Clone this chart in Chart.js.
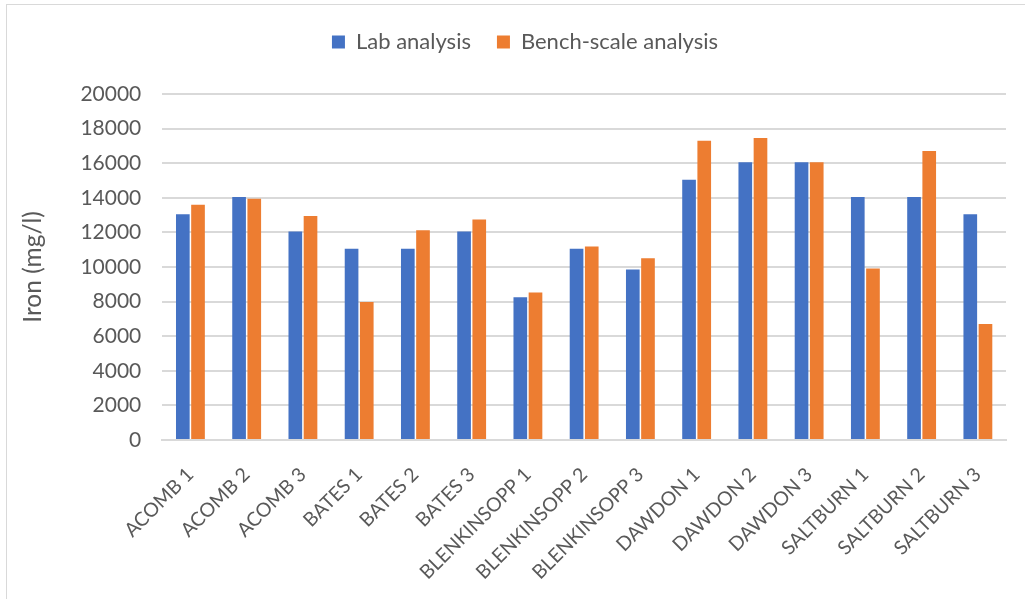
<!DOCTYPE html>
<html>
<head>
<meta charset="utf-8">
<script src="https://cdn.jsdelivr.net/npm/chart.js@4"></script>
<style>
  html, body { margin: 0; padding: 0; background: #fff; overflow: hidden; }
  #wrap {
    position: absolute; left: 6px; top: 4px; width: 1030px; height: 600px;
    border-left: 1px solid #d9d9d9; border-top: 1px solid #d9d9d9;
  }
  #ironChart { position: absolute; left: -7px; top: -5px; }
</style>
</head>
<body>
<div id="wrap">
  <canvas id="ironChart" width="1025" height="599"></canvas>
</div>
<script>
// Data
const sites = [
  "ACOMB 1", "ACOMB 2", "ACOMB 3", "BATES 1", "BATES 2", "BATES 3",
  "BLENKINSOPP 1", "BLENKINSOPP 2", "BLENKINSOPP 3", "DAWDON 1", "DAWDON 2",
  "DAWDON 3", "SALTBURN 1", "SALTBURN 2", "SALTBURN 3"
];
const labAnalysis = [13050, 14050, 12050, 11050, 11050, 12050, 8250, 11050, 9850, 15050, 16050, 16050, 14050, 14050, 13050];
const benchScale = [13600, 13950, 12950, 7980, 12120, 12750, 8520, 11190, 10510, 17300, 17450, 16060, 9910, 16700, 6700];
const yTicks = [0, 2000, 4000, 6000, 8000, 10000, 12000, 14000, 16000, 18000, 20000];

const textGray = "#595959";
const gridGray = "#d9d9d9";
Chart.defaults.font.family = "Lato, 'Open Sans', sans-serif";
Chart.defaults.color = textGray;

// extra room under the legend, and nudge it right like the original
const legendTweak = {
  id: "legendTweak",
  beforeInit(chart) {
    const fit = chart.legend.fit;
    chart.legend.fit = function () {
      fit.bind(chart.legend)();
      this.height += 31;
    };
  },
  afterLayout(chart) {
    chart.legend.left += 15;
    chart.legend.right += 15;
  }
};

const ctx = document.getElementById("ironChart").getContext("2d");
const chart = new Chart(ctx, {
  type: "bar",
  data: {
    labels: sites,
    datasets: [
      { label: "Lab analysis", data: labAnalysis, backgroundColor: "#4472C4" },
      { label: "Bench-scale analysis", data: benchScale, backgroundColor: "#ED7D31" }
    ]
  },
  options: {
    responsive: false,
    animation: false,
    devicePixelRatio: 1,
    categoryPercentage: 0.54,
    barPercentage: 0.9,
    layout: { padding: { top: 5, right: 19, bottom: 0, left: 14 } },
    plugins: {
      legend: {
        position: "top",
        labels: {
          boxWidth: 13, boxHeight: 13, padding: 26,
          font: { size: 22 }, color: textGray
        }
      },
      tooltip: { enabled: false }
    },
    scales: {
      x: {
        grid: { display: false, drawTicks: false },
        border: { color: gridGray, width: 2 },
        ticks: {
          maxRotation: 45, minRotation: 45, padding: 23, autoSkip: false,
          font: { size: 19.5 }, color: textGray
        },
        afterFit: axis => { axis.height = 159; }
      },
      y: {
        min: 0, max: 20000,
        afterBuildTicks: axis => { axis.ticks = yTicks.map(v => ({ value: v })); },
        grid: { color: gridGray, lineWidth: 2, drawTicks: false },
        border: { display: false },
        ticks: { padding: 21, font: { size: 21 }, color: textGray, callback: v => String(v) },
        title: { display: true, text: "Iron (mg/l)", font: { size: 24.5 }, color: textGray, padding: { bottom: 12 } }
      }
    }
  },
  plugins: [legendTweak]
});
</script>
</body>
</html>
